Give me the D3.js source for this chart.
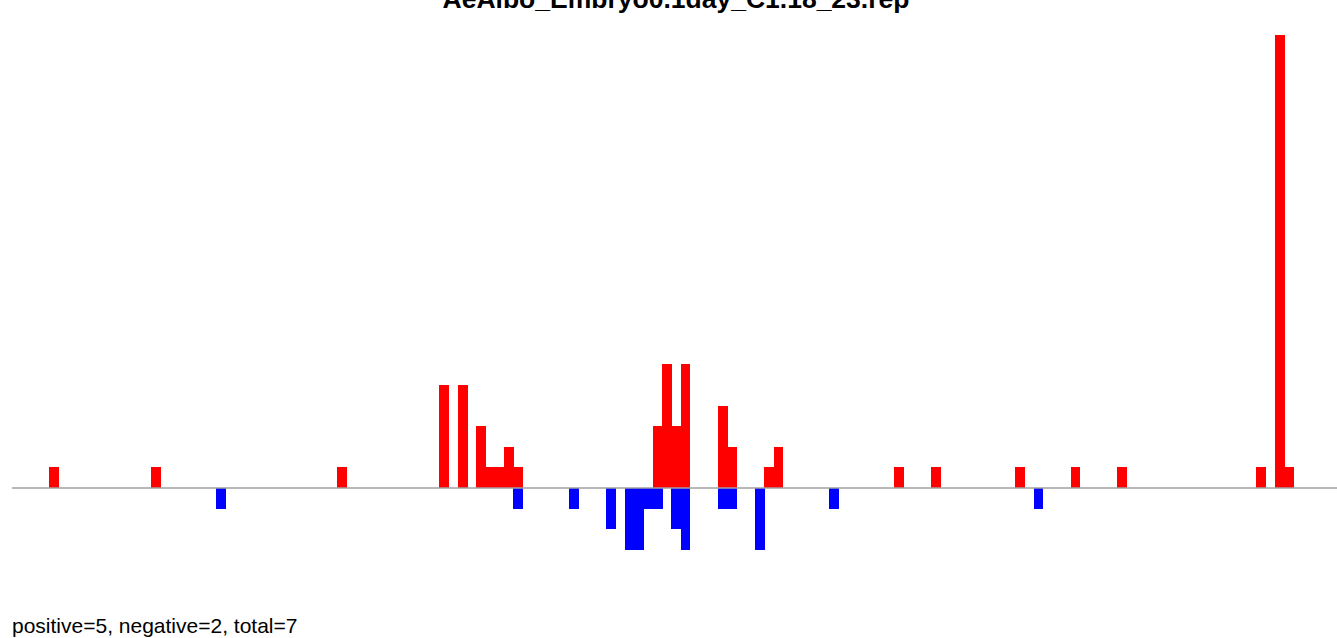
<!DOCTYPE html>
<html>
<head>
<meta charset="utf-8">
<script src="https://cdn.jsdelivr.net/npm/d3@7"></script>
<style>
  html, body { margin: 0; padding: 0; background: #fff; }
  svg { display: block; }
</style>
</head>
<body>
<svg id="chart" width="1337" height="638"></svg>
<script>
// ---- data (bin index -> count) ----
const title = "AeAlbo_Embryo0.1day_C1.18_23.rep";
const footer = "positive=5, negative=2, total=7";

const posBins   = [4, 15, 35, 46, 48, 50, 51, 52, 53, 54, 69, 70, 71, 72, 76, 77, 81, 82, 95, 99, 108, 114, 119, 134, 136, 137];
const posValues = [1, 1, 1, 5, 5, 3, 1, 1, 2, 1, 3, 6, 3, 6, 4, 2, 1, 2, 1, 1, 1, 1, 1, 1, 22, 1];

const negBins   = [22, 54, 60, 64, 66, 67, 68, 69, 71, 72, 76, 77, 80, 88, 110];
const negValues = [1, 1, 1, 2, 3, 3, 1, 1, 2, 3, 1, 1, 3, 1, 1];

const nBins = 143;

// ---- layout ----
const svg = d3.select("#chart");
const x = d3.scaleLinear().domain([0, nBins]).range([12, 1340]);
const y = d3.scaleLinear().domain([0, 22]).range([488, 35]);
const bw = x(1) - x(0);

const pos = posBins.map((b, i) => ({ b, v: posValues[i] }));
const neg = negBins.map((b, i) => ({ b, v: negValues[i] }));

svg.append("g").attr("shape-rendering", "crispEdges")
  .selectAll("rect").data(pos).join("rect")
  .attr("x", d => x(d.b))
  .attr("width", bw + 0.5)
  .attr("y", d => y(d.v))
  .attr("height", d => y(0) - y(d.v))
  .attr("fill", "#ff0000");

svg.append("g").attr("shape-rendering", "crispEdges")
  .selectAll("rect").data(neg).join("rect")
  .attr("x", d => x(d.b))
  .attr("width", bw + 0.5)
  .attr("y", y(0))
  .attr("height", d => y(-d.v) - y(0))
  .attr("fill", "#0000ff");

svg.append("line")
  .attr("x1", 12).attr("x2", 1337)
  .attr("y1", y(0)).attr("y2", y(0))
  .attr("stroke", "#a0a0a0")
  .attr("stroke-width", 1.6);

svg.append("text")
  .attr("x", 676).attr("y", 8)
  .attr("text-anchor", "middle")
  .attr("font-family", "Liberation Sans, Arial, sans-serif")
  .attr("font-weight", "bold")
  .attr("font-size", 26.5)
  .text(title);

svg.append("text")
  .attr("x", 12).attr("y", 633)
  .attr("font-family", "Liberation Sans, Arial, sans-serif")
  .attr("font-size", 21)
  .text(footer);
</script>
</body>
</html>
